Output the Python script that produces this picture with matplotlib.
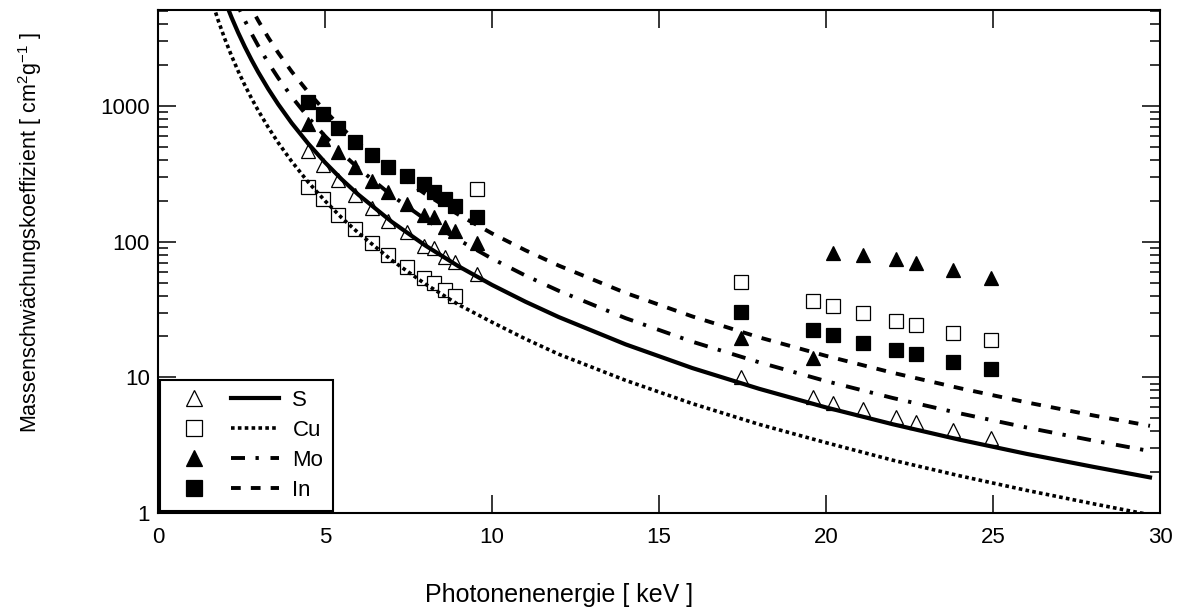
import matplotlib
matplotlib.use('Agg')
import matplotlib.pyplot as plt
from matplotlib.lines import Line2D
from matplotlib.legend_handler import HandlerTuple
from matplotlib.ticker import LogLocator, NullFormatter

plt.rcParams['font.family'] = ['Liberation Sans', 'DejaVu Sans']
plt.rcParams['mathtext.fontset'] = 'custom'
plt.rcParams['mathtext.rm'] = 'Liberation Sans'
plt.rcParams['mathtext.it'] = 'Liberation Sans:italic'

# measured points (photon energy in keV)
meas_E = [4.5, 4.93, 5.4, 5.9, 6.4, 6.9, 7.45, 7.95, 8.25, 8.6, 8.9, 9.55,
          17.45, 19.6, 20.2, 21.1, 22.1, 22.7, 23.8, 24.95]
S_meas = [464, 366, 283, 219, 176, 143, 117, 93, 90, 77, 71, 58,
          10.0, 7.2, 6.5, 5.8, 5.1, 4.7, 4.1, 3.6]
Cu_meas = [255, 205, 158, 123, 97, 80, 65, 54, 50, 44, 40, 243,
           50.6, 36.5, 33.6, 29.8, 26.0, 24.3, 21.2, 18.8]
Mo_meas = [736, 570, 456, 353, 278, 231, 191, 158, 151, 129, 119, 98,
           19.4, 14.0, 83, 80, 74, 70, 62, 54]
In_meas = [1071, 873, 687, 541, 434, 353, 303, 264, 231, 205, 182, 153,
           30.3, 22.3, 20.5, 17.9, 15.8, 14.8, 12.9, 11.5]

# tabulated curves
E_curve = [1.6, 1.8, 2.0, 2.2, 2.4, 2.6, 2.8, 3.0, 3.3, 3.6, 4.0, 4.5, 5.0, 5.5, 6.0,
           7.0, 8.0, 9.0, 10, 11, 12, 14, 16, 18, 20, 22, 24, 26, 28, 29.7]
S_curve = [11719, 8230, 6000, 4508, 3472, 2731, 2187, 1778, 1336, 1029, 750, 527, 384, 288, 222,
           140, 93.8, 65.8, 48.0, 36.1, 27.8, 17.5, 11.7, 8.23, 6.0, 4.51, 3.47, 2.73, 2.19, 1.83]
Cu_curve = [6104, 4287, 3125, 2348, 1808, 1422, 1139, 926, 696, 536, 391, 274, 200, 150, 116,
            72.9, 48.8, 34.3, 25.5, 19.2, 14.8, 9.5, 6.4, 4.5, 3.3, 2.45, 1.88, 1.47, 1.17, 0.97]
Mo_curve = [18311, 12860, 9375, 7044, 5425, 4267, 3418, 2778, 2087, 1608, 1172, 823, 600, 451, 347,
            219, 146, 103, 75, 56.3, 43.4, 27.3, 18.3, 12.9, 9.38, 7.04, 5.43, 4.27, 3.42, 2.86]
In_curve = [28076, 19719, 14375, 10800, 8319, 6543, 5239, 4259, 3200, 2465, 1797, 1262, 920, 691, 532,
            335, 225, 158, 115, 86.4, 66.6, 41.9, 28.1, 19.7, 14.4, 10.8, 8.32, 6.54, 5.24, 4.39]

names = ['S', 'Cu', 'Mo', 'In']
meas = [S_meas, Cu_meas, Mo_meas, In_meas]
curves = [S_curve, Cu_curve, Mo_curve, In_curve]
markers = ['^', 's', '^', 's']
mfaces = ['white', 'white', 'black', 'black']
msizes = [10, 10.5, 10, 10.5]
lstyles = ['-', (0, (1.0, 0.9)), (0, (3.6, 2.7, 0.85, 3.0)), (0, (2.5, 2.6))]
lwidths = [3.0, 2.6, 2.8, 2.8]

fig = plt.figure(figsize=(11.8, 6.14), dpi=100)
ax = fig.add_axes([158/1180, 1-513/614, (1160-158)/1180, (513-10)/614])

for i in range(4):
    ax.plot(meas_E, meas[i], ls='none', marker=markers[i], ms=msizes[i],
            mfc=mfaces[i], mec='black', mew=0.9, zorder=2)
for i in range(4):
    ax.plot(E_curve, curves[i], color='black', ls=lstyles[i], lw=lwidths[i], zorder=3)

ax.set_yscale('log')
ax.set_xlim(0, 30)
ax.set_ylim(1, 5100)
ax.set_xticks([0, 5, 10, 15, 20, 25, 30])
ax.set_xticklabels(['0', '5', '10', '15', '20', '25', '30'])
ax.set_yticks([1, 10, 100, 1000])
ax.set_yticklabels(['1', '10', '100', '1000'])
ax.yaxis.set_minor_locator(LogLocator(base=10, subs=range(2, 10), numticks=20))
ax.yaxis.set_minor_formatter(NullFormatter())
ax.tick_params(which='both', direction='in', top=True, right=True, labelsize=16)
ax.tick_params(which='major', length=13, width=1.1)
ax.tick_params(which='minor', length=7, width=1.1)
ax.tick_params(axis='x', pad=10)
ax.tick_params(axis='y', pad=6)
for sp in ax.spines.values():
    sp.set_linewidth(1.5)

fig.text(30/1180, 1-233/614, r'Massenschwächungskoeffizient [ cm$^{2}$g$^{-1}$ ]',
         rotation=90, ha='center', va='center', fontsize=15.5)
fig.text(559/1180, 1-595/614, 'Photonenenergie [ keV ]', ha='center', va='center', fontsize=18)

# legend: marker + line side by side
h_mark = [Line2D([], [], ls='none', marker=markers[i], ms=msizes[i], mfc=mfaces[i],
                 mec='black', mew=0.9) for i in range(4)]
h_line = [Line2D([], [], color='black', ls=lstyles[i], lw=lwidths[i]) for i in range(4)]
leg = ax.legend(list(zip(h_mark, h_line)), names,
                handler_map={tuple: HandlerTuple(ndivide=None, pad=0.6)},
                loc='lower left', borderaxespad=0.1, frameon=True, fancybox=False,
                edgecolor='black', framealpha=1, fontsize=16, handlelength=4.9,
                handletextpad=0.6, labelspacing=0.4, borderpad=0.45, markerscale=1.1)
leg.get_frame().set_linewidth(1.5)

fig.savefig('out.png', dpi=100)
